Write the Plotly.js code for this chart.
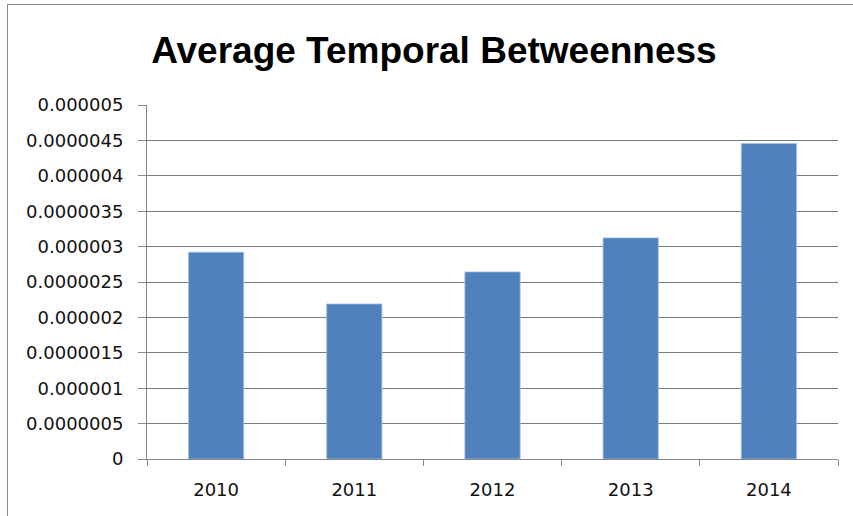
<!DOCTYPE html>
<html>
<head>
<meta charset="utf-8">
<script src="https://cdn.plot.ly/plotly-3.0.1.min.js"></script>
<style>
  html, body { margin: 0; padding: 0; background: #ffffff; }
  #wrap { position: relative; width: 853px; height: 516px; overflow: hidden; }
  #chart { width: 853px; height: 516px; }
  #frame { position: absolute; left: 7px; top: 4px; width: 900px; height: 600px;
           border-left: 1px solid #8a8a8a; border-top: 1px solid #8a8a8a; pointer-events: none; }
</style>
</head>
<body>
<div id="wrap">
  <div id="chart"></div>
  <div id="frame"></div>
</div>
<script>
const years = ['2010', '2011', '2012', '2013', '2014'];
const avgBetweenness = [2.92e-6, 2.19e-6, 2.643e-6, 3.123e-6, 4.455e-6];
const yTickVals = [0, 5e-7, 1e-6, 1.5e-6, 2e-6, 2.5e-6, 3e-6, 3.5e-6, 4e-6, 4.5e-6, 5e-6];
const yTickText = ['0', '0.0000005', '0.000001', '0.0000015', '0.000002', '0.0000025',
                   '0.000003', '0.0000035', '0.000004', '0.0000045', '0.000005'];
const chartTitle = 'Average Temporal Betweenness';

const trace = {
  type: 'bar',
  x: years,
  y: avgBetweenness,
  marker: { color: '#4F81BD', line: { color: '#a8c0e0', width: 0.8 } },
  hoverinfo: 'x+y'
};

const layout = {
  width: 853,
  height: 516,
  paper_bgcolor: '#ffffff',
  plot_bgcolor: '#ffffff',
  margin: { l: 147, r: 15, t: 105, b: 57, pad: 0 },
  showlegend: false,
  bargap: 0.6,
  title: {
    text: chartTitle,
    font: { family: 'Liberation Sans, Arial, sans-serif', size: 37, color: '#000000', weight: 'bold' },
    x: 0.5087, xref: 'container', xanchor: 'center',
    y: 0.903, yref: 'container', yanchor: 'middle'
  },
  xaxis: {
    type: 'category',
    showgrid: false,
    showline: true,
    linecolor: '#868686',
    linewidth: 1,
    ticks: 'outside',
    tickson: 'boundaries',
    ticklen: 6,
    tickcolor: '#868686',
    tickwidth: 1,
    ticklabelstandoff: 14,
    tickfont: { family: 'DejaVu Sans, sans-serif', size: 18, color: '#111111' },
    fixedrange: true
  },
  yaxis: {
    range: [0, 5e-6],
    tickmode: 'array',
    tickvals: yTickVals,
    ticktext: yTickText,
    showgrid: true,
    gridcolor: '#7a7a7a',
    gridwidth: 1,
    zeroline: false,
    showline: true,
    linecolor: '#868686',
    linewidth: 1,
    ticks: 'outside',
    ticklen: 8,
    tickcolor: '#868686',
    tickwidth: 1,
    ticklabelstandoff: 11,
    tickfont: { family: 'DejaVu Sans, sans-serif', size: 18, color: '#111111' },
    fixedrange: true
  }
};

Plotly.newPlot('chart', [trace], layout, { displayModeBar: false, staticPlot: true });
</script>
</body>
</html>
